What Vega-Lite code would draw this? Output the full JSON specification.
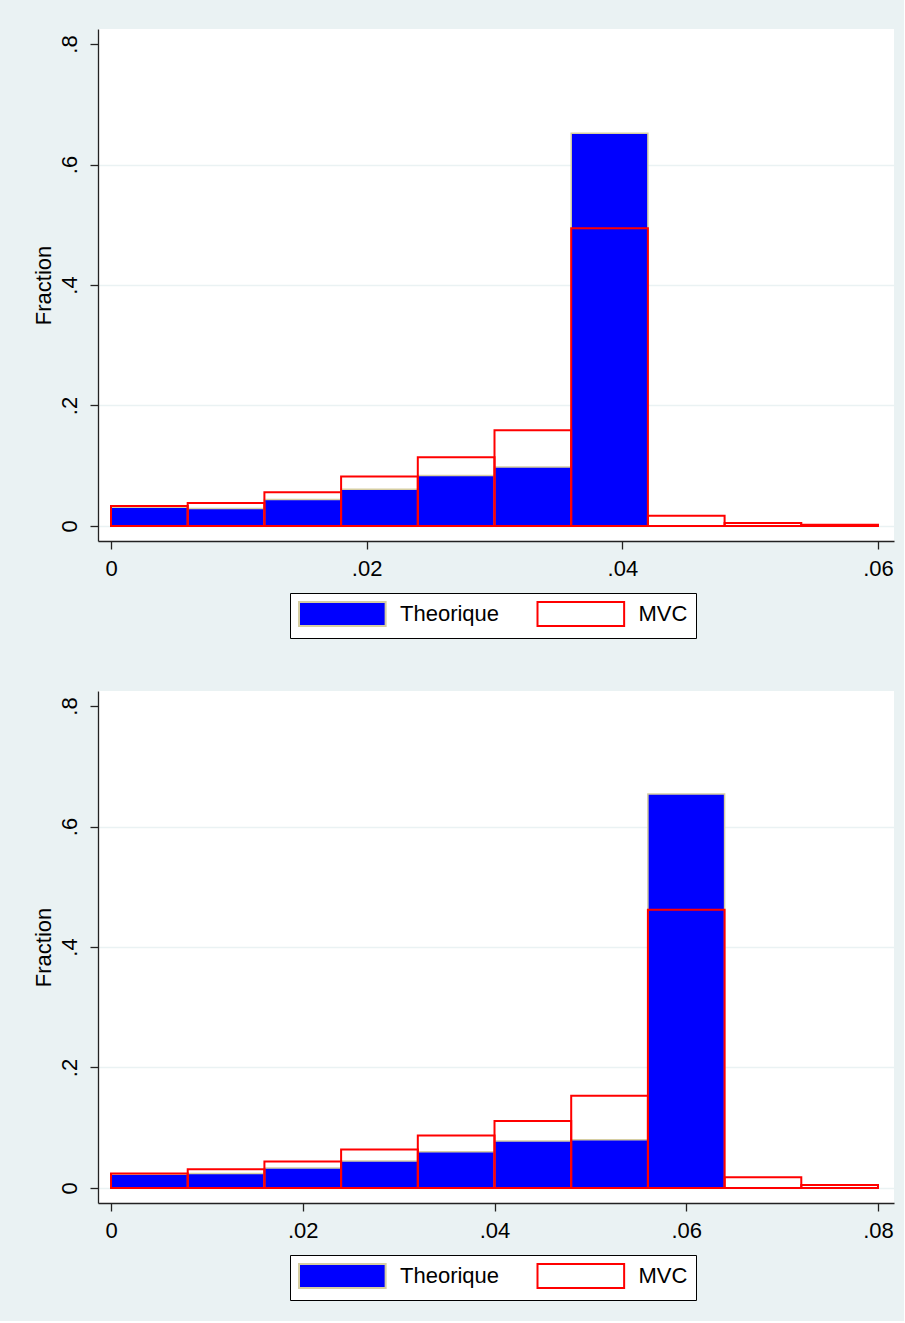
{
  "$schema": "https://vega.github.io/schema/vega-lite/v6.json",
  "padding": {"left": 31, "top": 29, "right": 10, "bottom": 20},
  "background": "#EAF2F3",
  "data": {
    "values": [
      {"panel": 1, "series": "Theorique", "x0": 0.000, "x1": 0.006, "frac": 0.031},
      {"panel": 1, "series": "Theorique", "x0": 0.006, "x1": 0.012, "frac": 0.029},
      {"panel": 1, "series": "Theorique", "x0": 0.012, "x1": 0.018, "frac": 0.044},
      {"panel": 1, "series": "Theorique", "x0": 0.018, "x1": 0.024, "frac": 0.061},
      {"panel": 1, "series": "Theorique", "x0": 0.024, "x1": 0.030, "frac": 0.084},
      {"panel": 1, "series": "Theorique", "x0": 0.030, "x1": 0.036, "frac": 0.098},
      {"panel": 1, "series": "Theorique", "x0": 0.036, "x1": 0.042, "frac": 0.652},
      {"panel": 1, "series": "MVC", "x0": 0.000, "x1": 0.006, "frac": 0.033},
      {"panel": 1, "series": "MVC", "x0": 0.006, "x1": 0.012, "frac": 0.038},
      {"panel": 1, "series": "MVC", "x0": 0.012, "x1": 0.018, "frac": 0.056},
      {"panel": 1, "series": "MVC", "x0": 0.018, "x1": 0.024, "frac": 0.082},
      {"panel": 1, "series": "MVC", "x0": 0.024, "x1": 0.030, "frac": 0.114},
      {"panel": 1, "series": "MVC", "x0": 0.030, "x1": 0.036, "frac": 0.159},
      {"panel": 1, "series": "MVC", "x0": 0.036, "x1": 0.042, "frac": 0.494},
      {"panel": 1, "series": "MVC", "x0": 0.042, "x1": 0.048, "frac": 0.017},
      {"panel": 1, "series": "MVC", "x0": 0.048, "x1": 0.054, "frac": 0.005},
      {"panel": 1, "series": "MVC", "x0": 0.054, "x1": 0.060, "frac": 0.002},
      {"panel": 2, "series": "Theorique", "x0": 0.000, "x1": 0.008, "frac": 0.023},
      {"panel": 2, "series": "Theorique", "x0": 0.008, "x1": 0.016, "frac": 0.024},
      {"panel": 2, "series": "Theorique", "x0": 0.016, "x1": 0.024, "frac": 0.033},
      {"panel": 2, "series": "Theorique", "x0": 0.024, "x1": 0.032, "frac": 0.045},
      {"panel": 2, "series": "Theorique", "x0": 0.032, "x1": 0.040, "frac": 0.060},
      {"panel": 2, "series": "Theorique", "x0": 0.040, "x1": 0.048, "frac": 0.078},
      {"panel": 2, "series": "Theorique", "x0": 0.048, "x1": 0.056, "frac": 0.080},
      {"panel": 2, "series": "Theorique", "x0": 0.056, "x1": 0.064, "frac": 0.654},
      {"panel": 2, "series": "MVC", "x0": 0.000, "x1": 0.008, "frac": 0.024},
      {"panel": 2, "series": "MVC", "x0": 0.008, "x1": 0.016, "frac": 0.031},
      {"panel": 2, "series": "MVC", "x0": 0.016, "x1": 0.024, "frac": 0.044},
      {"panel": 2, "series": "MVC", "x0": 0.024, "x1": 0.032, "frac": 0.064},
      {"panel": 2, "series": "MVC", "x0": 0.032, "x1": 0.040, "frac": 0.087},
      {"panel": 2, "series": "MVC", "x0": 0.040, "x1": 0.048, "frac": 0.111},
      {"panel": 2, "series": "MVC", "x0": 0.048, "x1": 0.056, "frac": 0.153},
      {"panel": 2, "series": "MVC", "x0": 0.056, "x1": 0.064, "frac": 0.462},
      {"panel": 2, "series": "MVC", "x0": 0.064, "x1": 0.072, "frac": 0.018},
      {"panel": 2, "series": "MVC", "x0": 0.072, "x1": 0.080, "frac": 0.005}
    ]
  },
  "spacing": 52,
  "resolve": {
    "scale": {"fill": "independent", "stroke": "independent"},
    "legend": {"fill": "independent", "stroke": "independent"}
  },
  "vconcat": [
    {
      "width": 796,
      "height": 512,
      "transform": [{"filter": "datum.panel == 1"}],
      "encoding": {
        "x": {"field": "x0", "type": "quantitative",
              "scale": {"domain": [-0.001017, 0.061252], "nice": false, "zero": false},
              "axis": {"title": null, "values": [0, 0.02, 0.04, 0.06], "labelExpr": "datum.value == 0 ? '0' : replace(format(datum.value, '.2f'), '0.', '.')", "grid": false}},
        "x2": {"field": "x1"},
        "y": {"field": "frac", "type": "quantitative",
              "scale": {"domain": [-0.0249, 0.8249], "nice": false, "zero": false},
              "axis": {"title": "Fraction", "values": [0, 0.2, 0.4, 0.6, 0.8], "labelExpr": "datum.value == 0 ? '0' : replace(format(datum.value, '.1f'), '0.', '.')", "labelAngle": -90, "grid": true,
                       "gridColor": {"condition": {"test": "datum.value >= 0.79", "value": "rgba(0,0,0,0)"}, "value": "#EAF2F3"}}},
        "y2": {"datum": 0},
        "fill": {"field": "series", "type": "nominal",
                 "scale": {"domain": ["Theorique", "MVC"], "range": ["#0000FF", "rgba(255,255,255,0)"]},
                 "legend": {"title": null, "orient": "none", "legendX": 192, "legendY": 564, "direction": "horizontal"}},
        "stroke": {"field": "series", "type": "nominal",
                   "scale": {"domain": ["Theorique", "MVC"], "range": ["#D6CEA2", "#FF0000"]},
                   "legend": {"title": null, "orient": "none", "legendX": 192, "legendY": 564, "direction": "horizontal"}}
      },
      "layer": [
        {"transform": [{"filter": "datum.series == 'Theorique'"}], "mark": {"type": "rect", "strokeWidth": 1.5}},
        {"transform": [{"filter": "datum.series == 'MVC'"}], "mark": {"type": "rect", "strokeWidth": 2}}
      ]
    },
    {
      "width": 796,
      "height": 512,
      "transform": [{"filter": "datum.panel == 2"}],
      "encoding": {
        "x": {"field": "x0", "type": "quantitative",
              "scale": {"domain": [-0.001358, 0.08167], "nice": false, "zero": false},
              "axis": {"title": null, "values": [0, 0.02, 0.04, 0.06, 0.08], "labelExpr": "datum.value == 0 ? '0' : replace(format(datum.value, '.2f'), '0.', '.')", "grid": false}},
        "x2": {"field": "x1"},
        "y": {"field": "frac", "type": "quantitative",
              "scale": {"domain": [-0.0249, 0.8249], "nice": false, "zero": false},
              "axis": {"title": "Fraction", "values": [0, 0.2, 0.4, 0.6, 0.8], "labelExpr": "datum.value == 0 ? '0' : replace(format(datum.value, '.1f'), '0.', '.')", "labelAngle": -90, "grid": true,
                       "gridColor": {"condition": {"test": "datum.value >= 0.79", "value": "rgba(0,0,0,0)"}, "value": "#EAF2F3"}}},
        "y2": {"datum": 0},
        "fill": {"field": "series", "type": "nominal",
                 "scale": {"domain": ["Theorique", "MVC"], "range": ["#0000FF", "rgba(255,255,255,0)"]},
                 "legend": {"title": null, "orient": "none", "legendX": 192, "legendY": 564, "direction": "horizontal"}},
        "stroke": {"field": "series", "type": "nominal",
                   "scale": {"domain": ["Theorique", "MVC"], "range": ["#D6CEA2", "#FF0000"]},
                   "legend": {"title": null, "orient": "none", "legendX": 192, "legendY": 564, "direction": "horizontal"}}
      },
      "layer": [
        {"transform": [{"filter": "datum.series == 'Theorique'"}], "mark": {"type": "rect", "strokeWidth": 1.5}},
        {"transform": [{"filter": "datum.series == 'MVC'"}], "mark": {"type": "rect", "strokeWidth": 2}}
      ]
    }
  ],
  "config": {
    "font": "Liberation Sans",
    "view": {"fill": "white", "stroke": null},
    "axis": {
      "domainColor": "#222222", "domainWidth": 1.3,
      "tickColor": "#222222", "tickWidth": 1.3, "tickSize": 8,
      "labelFont": "Liberation Sans", "labelFontSize": 22, "labelColor": "#000000", "labelPadding": 9,
      "titleFont": "Liberation Sans", "titleFontSize": 22, "titleFontWeight": "normal", "titleColor": "#000000", "titlePadding": 3,
      "gridWidth": 1.5
    },
    "legend": {
      "labelFont": "Liberation Sans", "labelFontSize": 22, "labelColor": "#000000",
      "symbolType": "M-1,-1L6.22,-1L6.22,1L-1,1Z",
      "symbolSize": 576,
      "symbolStrokeWidth": 2,
      "symbolOpacity": 1,
      "labelOffset": 76,
      "columnPadding": 33.5,
      "padding": 8,
      "strokeColor": "#000000",
      "fillColor": "#FFFFFF"
    }
  }
}
